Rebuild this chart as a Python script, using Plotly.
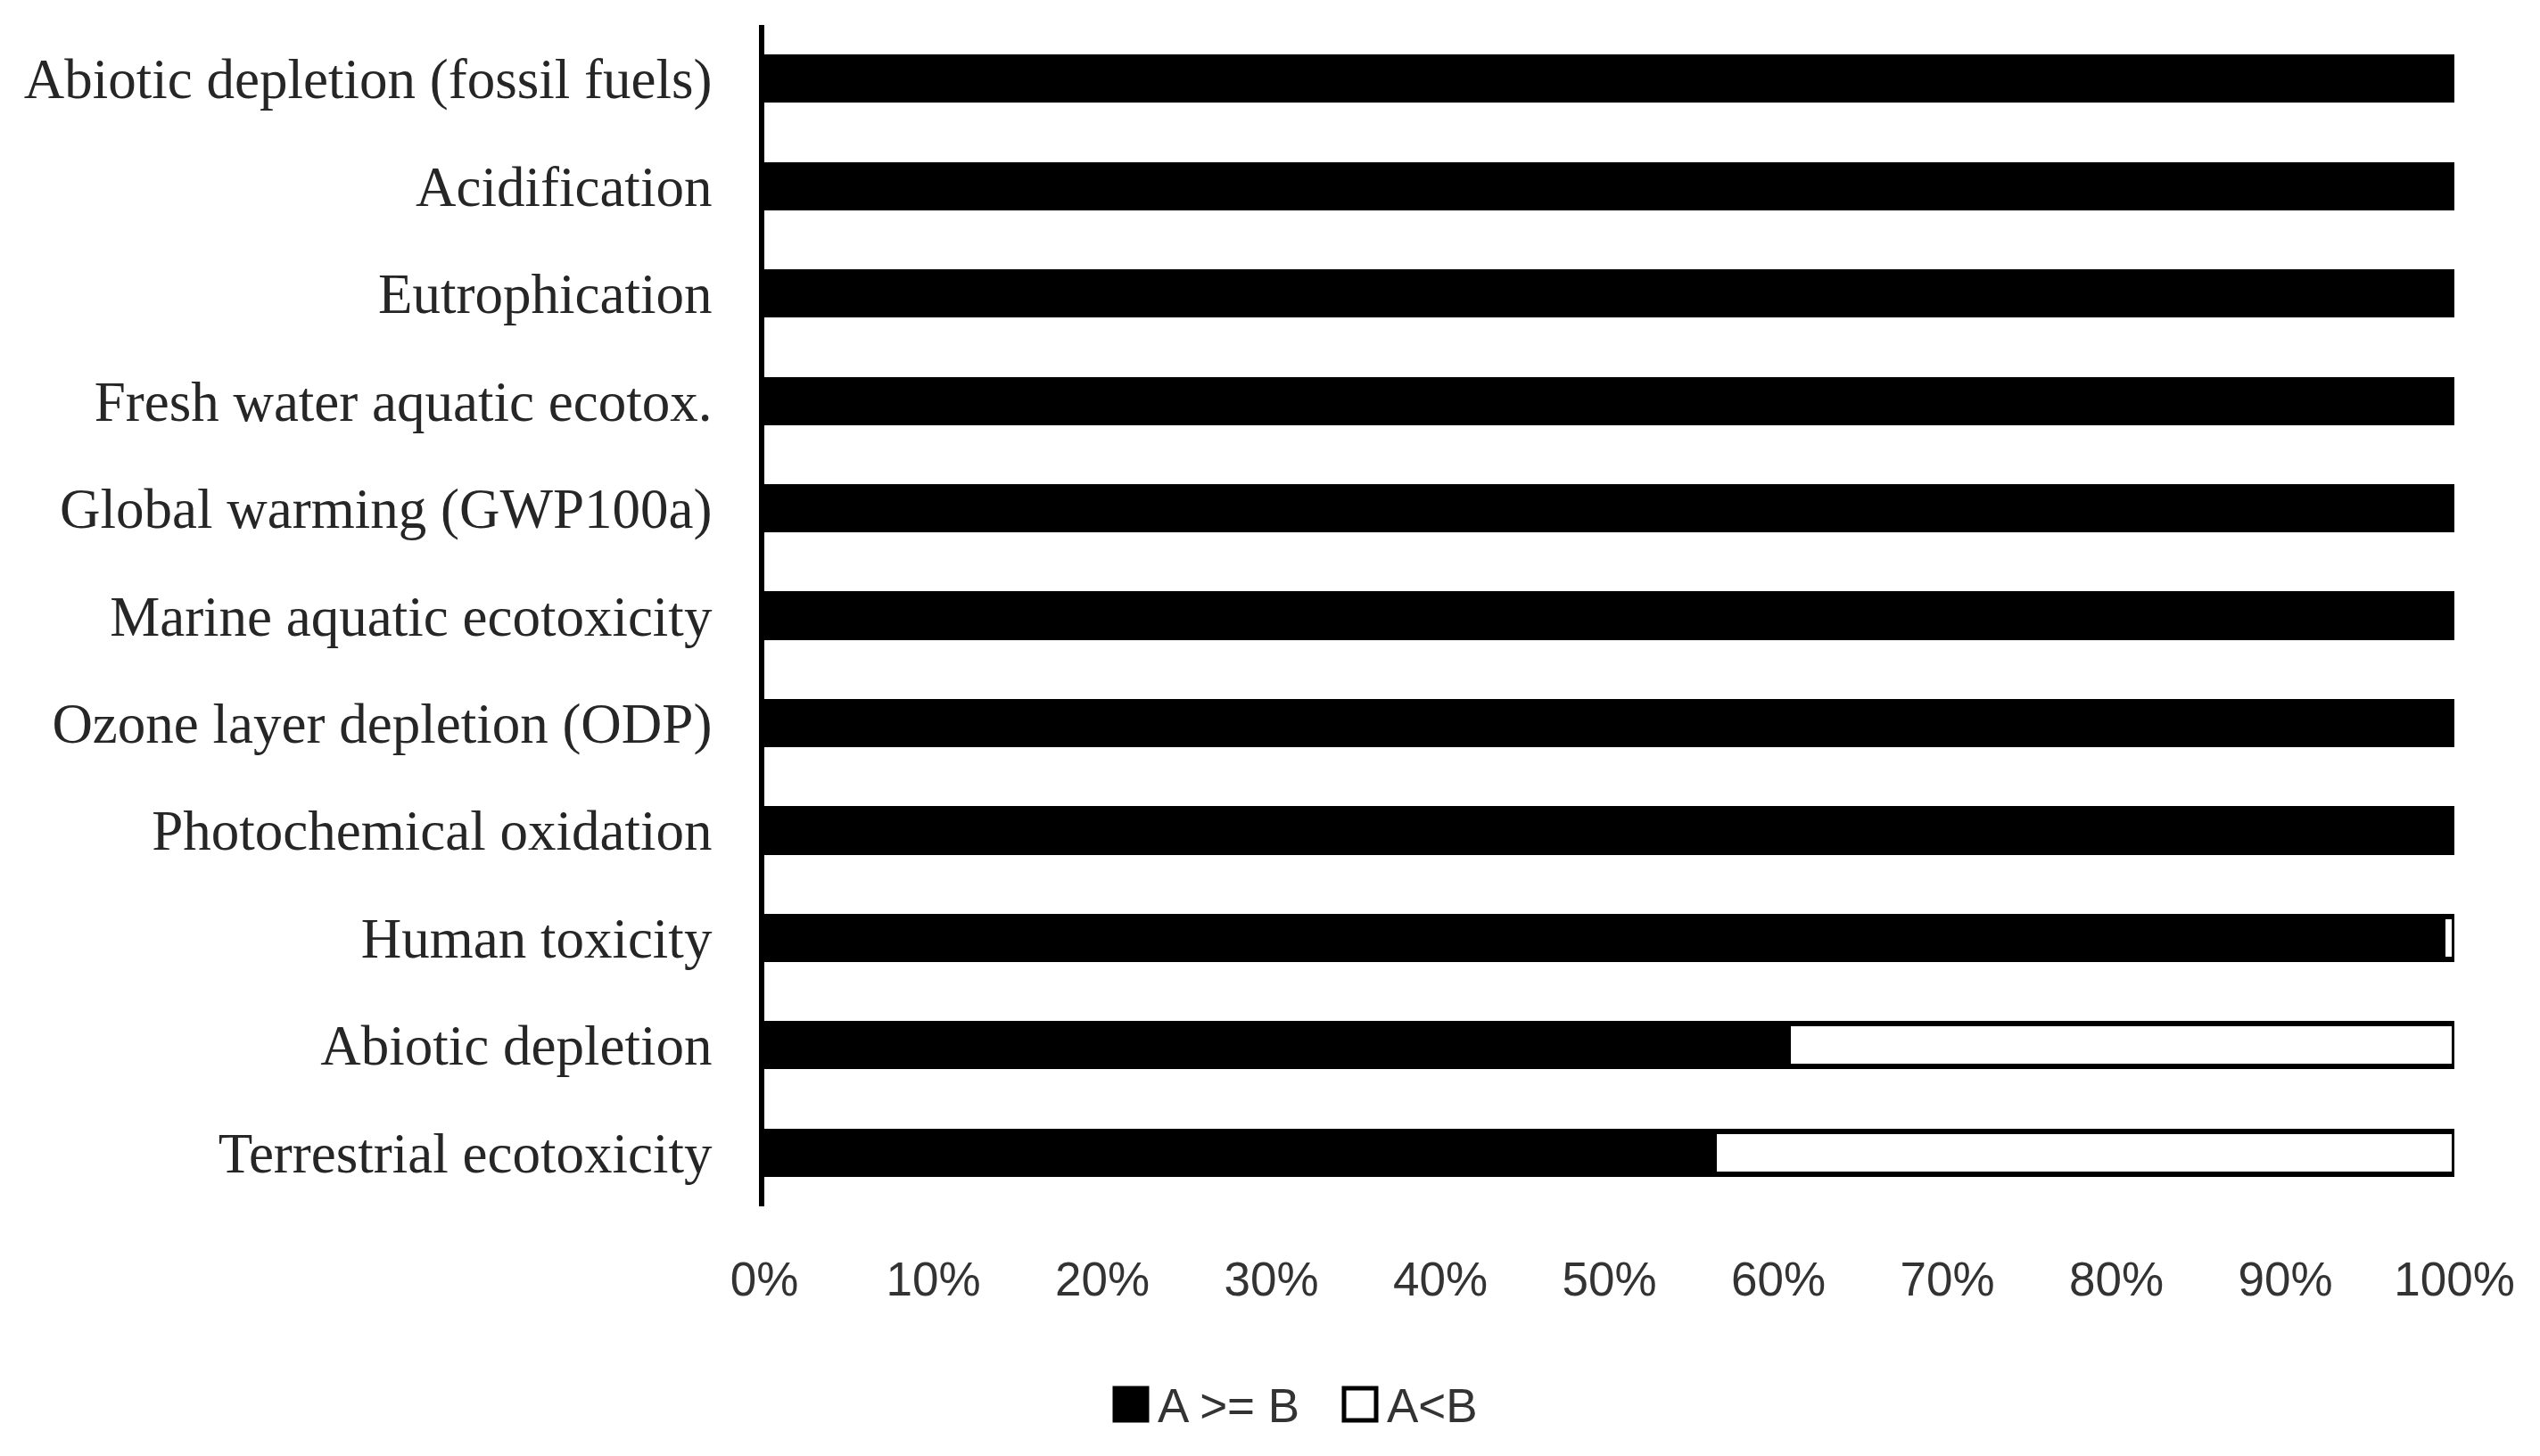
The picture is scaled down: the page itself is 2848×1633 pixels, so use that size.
import plotly.graph_objects as go

categories = [
    "Abiotic depletion (fossil fuels)",
    "Acidification",
    "Eutrophication",
    "Fresh water aquatic ecotox.",
    "Global warming (GWP100a)",
    "Marine aquatic ecotoxicity",
    "Ozone layer depletion (ODP)",
    "Photochemical oxidation",
    "Human toxicity",
    "Abiotic depletion",
    "Terrestrial ecotoxicity",
]
a_ge_b = [100, 100, 100, 100, 100, 100, 100, 100, 99.3, 60.6, 56.2]
a_lt_b = [0, 0, 0, 0, 0, 0, 0, 0, 0.7, 39.4, 43.8]
series_names = ["A >= B", "A<B"]
tick_vals = [0, 10, 20, 30, 40, 50, 60, 70, 80, 90, 100]
tick_text = [f"{v}%" for v in tick_vals]

OFF = 8  # default page body margin
W, H = 2848 - 2 * OFF, 1633 - 2 * OFF
L, T = 857 - OFF, 28 - OFF
R = W - (2752 - OFF)
B = H - (1353 - OFF)
pw, ph = W - L - R, H - T - B

fig = go.Figure()
fig.add_trace(go.Bar(y=categories, x=a_ge_b, orientation="h", name=series_names[0],
                     marker=dict(color="black", line=dict(color="black", width=6)),
                     showlegend=False))
fig.add_trace(go.Bar(y=categories, x=a_lt_b, orientation="h", name=series_names[1],
                     marker=dict(color="white", line=dict(color="black", width=6)),
                     showlegend=False))

def px_x(p):
    return (p - OFF - L) / pw

def px_y(p):
    return (H - B - (p - OFF)) / ph

# manual legend (large swatches)
legend_items = [
    (1248, "black", series_names[0]),
    (1505, "white", series_names[1]),
]
for x0, fill, label in legend_items:
    fig.add_shape(type="rect", xref="paper", yref="paper",
                  x0=px_x(x0 + 2), x1=px_x(x0 + 38), y0=px_y(1557), y1=px_y(1593),
                  fillcolor=fill, line=dict(color="black", width=5))
    fig.add_annotation(xref="paper", yref="paper", x=px_x(x0 + 48), y=px_y(1576),
                       text=label, showarrow=False, xanchor="left", yanchor="middle",
                       font=dict(family="Liberation Sans", size=53, color="#333333"))

fig.update_layout(
    width=W, height=H,
    margin=dict(l=L, r=R, t=T, b=B, pad=0),
    barmode="stack",
    bargap=0.6,
    plot_bgcolor="white",
    paper_bgcolor="white",
    showlegend=False,
)
fig.update_xaxes(range=[0, 100], tickvals=tick_vals, ticktext=tick_text,
                 showgrid=False, zeroline=False, showline=False, ticks="",
                 ticklabelstandoff=46,
                 tickfont=dict(family="Liberation Sans", size=53, color="#333333"))
fig.update_yaxes(autorange="reversed", showgrid=False, zeroline=False,
                 showline=True, linecolor="black", linewidth=6, ticks="",
                 ticklabelstandoff=40,
                 tickfont=dict(family="Liberation Serif", size=63, color="#262626"))

fig.write_html("out.html")
